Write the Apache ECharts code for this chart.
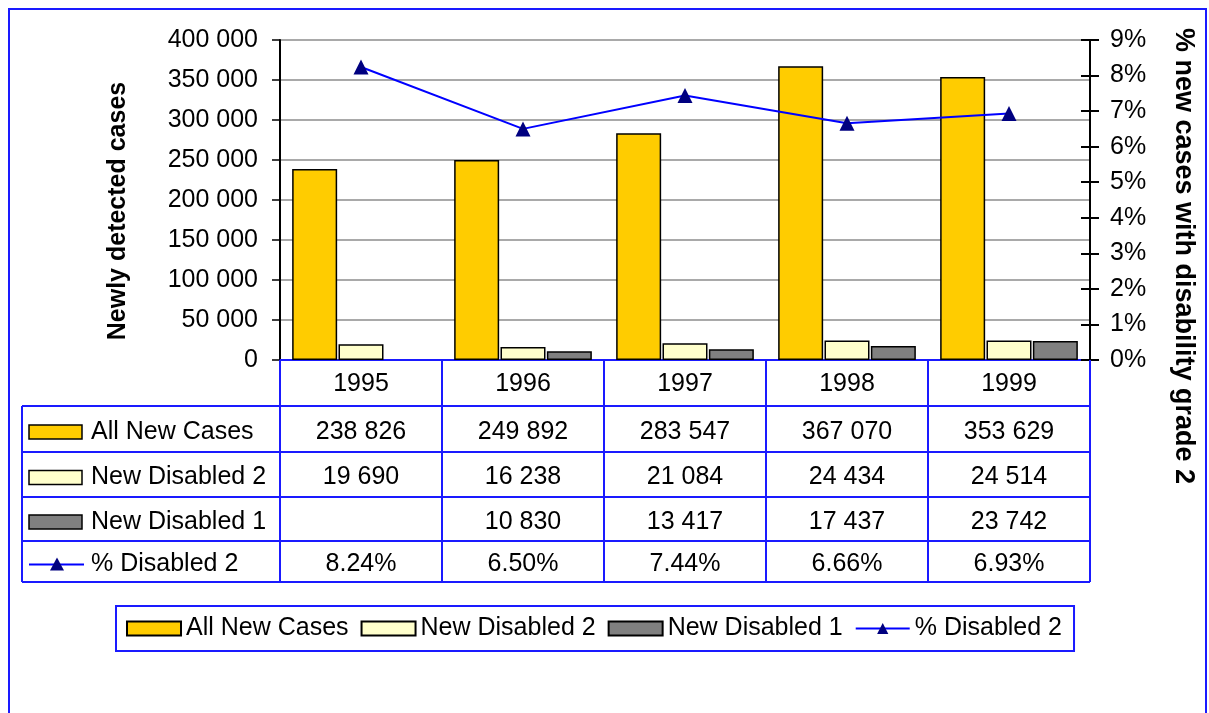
<!DOCTYPE html>
<html>
<head>
<meta charset="utf-8">
<script src="https://cdn.jsdelivr.net/npm/echarts@6/dist/echarts.min.js"></script>
<style>
  html, body { margin: 0; padding: 0; background: #fff; }
  #chart { width: 1209px; height: 713px; }
</style>
</head>
<body>
<div id="chart"></div>
<script>
// data
var years = ['1995', '1996', '1997', '1998', '1999'];
var allNewCases = [238826, 249892, 283547, 367070, 353629];
var newDisabled2 = [19690, 16238, 21084, 24434, 24514];
var newDisabled1 = [null, 10830, 13417, 17437, 23742];
var pctDisabled2 = [8.24, 6.50, 7.44, 6.66, 6.93];

var FONT = '"Liberation Sans", Arial, sans-serif';
var BLUE = '#1a1aff';

// grid box (px)
var GL = 280, GR = 1090, GT = 40, GB = 360;
var colW = (GR - GL) / years.length;
// table rows below the header row
var rowY = [406, 452, 497, 541, 582];
var tableLeft = 22;

function fmt(v) {
  if (v == null) return '';
  return String(v).replace(/\B(?=(\d{3})+(?!\d))/g, ' ');
}

var rows = [
  { name: 'All New Cases', vals: allNewCases.map(fmt), key: 'bar', color: '#ffcc00' },
  { name: 'New Disabled 2', vals: newDisabled2.map(fmt), key: 'bar', color: '#ffffcc' },
  { name: 'New Disabled 1', vals: newDisabled1.map(fmt), key: 'bar', color: '#808080' },
  { name: '% Disabled 2', vals: pctDisabled2.map(function (v) { return v.toFixed(2) + '%'; }), key: 'line' }
];

var graphic = [];
// outer frame
graphic.push({ type: 'rect', shape: { x: 9, y: 9, width: 1197, height: 720 },
  style: { fill: 'none', stroke: BLUE, lineWidth: 2 }, silent: true });

// axis titles
graphic.push({ type: 'text', x: 118, y: 211, rotation: Math.PI / 2,
  style: { text: 'Newly detected cases', font: 'bold 25px ' + FONT, fill: '#000', align: 'center', verticalAlign: 'middle' } });
graphic.push({ type: 'text', x: 1183, y: 256, rotation: -Math.PI / 2,
  style: { text: '% new cases with disability grade 2', font: 'bold 27px ' + FONT, fill: '#000', align: 'center', verticalAlign: 'middle' } });

// table lines
for (var r = 0; r < rowY.length; r++) {
  graphic.push({ type: 'line', shape: { x1: tableLeft, y1: rowY[r], x2: GR, y2: rowY[r] },
    style: { stroke: BLUE, lineWidth: 2 }, silent: true });
}
graphic.push({ type: 'line', shape: { x1: tableLeft, y1: rowY[0], x2: tableLeft, y2: rowY[rowY.length - 1] },
  style: { stroke: BLUE, lineWidth: 2 }, silent: true });
for (var c = 0; c <= years.length; c++) {
  var lx = GL + c * colW;
  graphic.push({ type: 'line', shape: { x1: lx, y1: rowY[0], x2: lx, y2: rowY[rowY.length - 1] },
    style: { stroke: BLUE, lineWidth: 2 }, silent: true });
}

// table row keys, names and values (text sits a little below the row middle)
rows.forEach(function (row, i) {
  var cy = (rowY[i] + rowY[i + 1]) / 2 + 3;
  if (row.key === 'bar') {
    graphic.push({ type: 'rect', shape: { x: 29, y: cy - 7, width: 53, height: 14 },
      style: { fill: row.color, stroke: '#000', lineWidth: 1.5 } });
  } else {
    graphic.push({ type: 'line', shape: { x1: 29, y1: cy, x2: 84, y2: cy },
      style: { stroke: '#0000ff', lineWidth: 2 } });
    graphic.push({ type: 'polygon', shape: { points: [[57, cy - 7], [50, cy + 6], [64, cy + 6]] },
      style: { fill: '#000080' } });
  }
  graphic.push({ type: 'text', x: 91, y: cy,
    style: { text: row.name, font: '25px ' + FONT, fill: '#000', verticalAlign: 'middle' } });
  row.vals.forEach(function (v, j) {
    graphic.push({ type: 'text', x: GL + (j + 0.5) * colW, y: cy,
      style: { text: v, font: '25px ' + FONT, fill: '#000', align: 'center', verticalAlign: 'middle' } });
  });
});

var option = {
  animation: false,
  backgroundColor: '#fff',
  textStyle: { fontFamily: FONT },
  grid: { left: GL, right: 1209 - GR, top: GT, bottom: 713 - GB, containLabel: false },
  legend: {
    left: 116, top: 606,
    padding: [10, 12, 10, 10],
    borderColor: BLUE, borderWidth: 2,
    itemWidth: 54, itemHeight: 14, itemGap: 12,
    textStyle: { fontSize: 25, color: '#000', fontFamily: FONT },
    data: [
      { name: 'All New Cases', icon: 'rect' },
      { name: 'New Disabled 2', icon: 'rect' },
      { name: 'New Disabled 1', icon: 'rect' },
      { name: '% Disabled 2' }
    ]
  },
  xAxis: {
    type: 'category',
    data: years,
    axisLine: { lineStyle: { color: BLUE, width: 2 } },
    axisTick: { show: true, interval: 0, length: 46, lineStyle: { color: BLUE, width: 2 } },
    axisLabel: { fontSize: 25, color: '#000', margin: 12, interval: 0 }
  },
  yAxis: [
    {
      type: 'value', min: 0, max: 400000, interval: 50000, position: 'left',
      axisLine: { show: true, lineStyle: { color: '#000', width: 2 } },
      axisTick: { show: true, length: 8, lineStyle: { color: '#000', width: 1.5 } },
      axisLabel: { fontSize: 25, color: '#000', margin: 22, formatter: function (v) { return fmt(v); } },
      splitLine: { show: true, lineStyle: { color: '#8c8c8c', width: 1.5 } }
    },
    {
      type: 'value', min: 0, max: 9, interval: 1, position: 'right',
      axisLine: { show: true, lineStyle: { color: '#000', width: 2 } },
      axisTick: { show: true, length: 9, lineStyle: { color: '#000', width: 2 } },
      axisLabel: { fontSize: 25, color: '#000', margin: 20, formatter: '{value}%' },
      splitLine: { show: false }
    },
    {
      // inner half of the crossing ticks on the right axis
      type: 'value', min: 0, max: 9, interval: 1, position: 'right',
      axisLine: { show: false },
      axisTick: { show: true, inside: true, length: 9, lineStyle: { color: '#000', width: 2 } },
      axisLabel: { show: false },
      splitLine: { show: false }
    }
  ],
  series: [
    {
      name: 'All New Cases', type: 'bar', data: allNewCases,
      barCategoryGap: '15%', barGap: '3%',
      itemStyle: { color: '#ffcc00', borderColor: '#000', borderWidth: 1.5 }
    },
    {
      name: 'New Disabled 2', type: 'bar', data: newDisabled2,
      barCategoryGap: '15%', barGap: '3%',
      itemStyle: { color: '#ffffcc', borderColor: '#000', borderWidth: 1.5 }
    },
    {
      name: 'New Disabled 1', type: 'bar', data: newDisabled1,
      barCategoryGap: '15%', barGap: '3%',
      itemStyle: { color: '#808080', borderColor: '#000', borderWidth: 1.5 }
    },
    {
      name: '% Disabled 2', type: 'line', yAxisIndex: 1, data: pctDisabled2,
      symbol: 'triangle', symbolSize: 15, z: 5,
      lineStyle: { color: '#0000ff', width: 2 },
      itemStyle: { color: '#000080' }
    }
  ],
  graphic: graphic
};

var chart = echarts.init(document.getElementById('chart'));
chart.setOption(option);
</script>
</body>
</html>
